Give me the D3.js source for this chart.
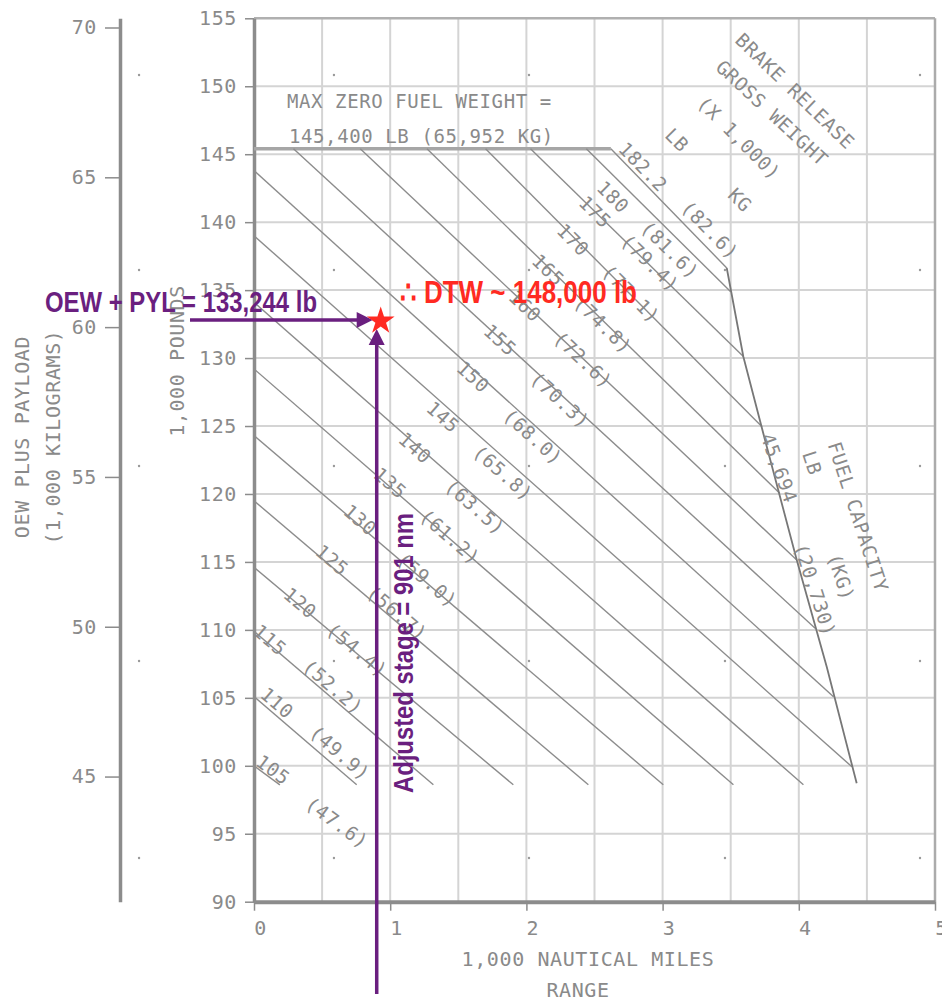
<!DOCTYPE html>
<html>
<head>
<meta charset="UTF-8">
<title>Payload Range</title>
<script src="https://d3js.org/d3.v7.min.js"></script>
<style>
body{margin:0;background:#fff;}
.grid line{stroke:#d4d4d4;stroke-width:2px;}
.cad{font-family:"DejaVu Sans Mono",monospace;fill:#8a8a8a;font-size:19px;letter-spacing:0.6px;}
.gw{fill:none;stroke:#8c8c8c;stroke-width:1.4px;}
.axis path,.axis line{stroke:#8c8c8c;}
</style>
</head>
<body>
<svg width="942" height="1003"></svg>
<script>
// axis ticks
var rangeTicks = [0,1,2,3,4,5];
var lbTicks = [90,95,100,105,110,115,120,125,130,135,140,145,150,155];
var kgTicks = [45,50,55,60,65,70];
var gridX = [0.5,1,1.5,2,2.5,3,3.5,4,4.5];
var gridY = [95,100,105,110,115,120,125,130,135,140,145,150];

// brake release gross weight lines (x = 1000 nm, y = 1000 lb)
var gwLb = ["105","110","115","120","125","130","135","140","145","150","155","160","165","170","175","180","182.2"];
var gwKg = ["(47.6)","(49.9)","(52.2)","(54.4)","(56.7)","(59.0)","(61.2)","(63.5)","(65.8)","(68.0)","(70.3)","(72.6)","(74.8)","(77.1)","(79.4)","(81.6)","(82.6)"];
var gwStart = [[0,100.0],[0,105.1],[0,109.9],[0,114.6],[0,119.5],[0,124.3],[0,129.2],[0,134.1],[0,139.0],[0,143.8],
               [0.29,145.4],[0.78,145.4],[1.27,145.4],[1.70,145.4],[2.03,145.4],[2.44,145.4],[2.62,145.4]];
var gwEnd = [[0.19,98.6],[0.754,98.6],[1.317,98.6],[1.904,98.6],[2.455,98.6],[3.005,98.6],[3.52,98.6],[4.034,98.6],
             [4.39,99.93],[4.255,105.08],[4.12,110.12],[3.985,115.14],[3.86,120.05],[3.73,124.95],[3.595,130.1],[3.50,134.88],[3.471,136.63]];
var gwLbPos = [[0.14,99.71],[0.169,104.62],[0.117,109.26],[0.338,111.98],[0.573,115.14],[0.778,118.09],[0.999,120.81],[1.182,123.38],
               [1.388,125.66],[1.608,128.61],[1.806,131.33],[1.990,133.83],[2.159,136.48],[2.342,138.69],[2.504,140.75],[2.636,141.85],[2.856,144.06]];
var gwKgPos = [[0.609,95.81],[0.631,100.94],[0.580,105.80],[0.756,108.52],[1.050,111.24],[1.270,113.67],[1.439,116.84],[1.623,119.04],
               [1.828,121.54],[2.048,124.20],[2.247,126.92],[2.416,129.86],[2.562,132.44],[2.768,134.72],[2.907,137.00],[3.054,137.95],[3.348,139.42]];

// fuel capacity limit and max zero fuel weight
var fuelPts = [[3.471,136.63],[3.593,130.10],[3.752,123.97],[3.985,115.14],[4.205,107.29],[4.425,98.71]];
var mzfw = [[0,145.4],[2.62,145.4]];

// little registration dots
var dotX = [-0.844,0.587,2.019,3.458,4.890];
var dotY = [150.83,136.48,122.06,107.71,93.22];

// worked example
var stageNm = 0.901;
var oewPyl = 132.8;

var svg = d3.select("svg");
var LB_PER_KG = 2.20462;

var x = d3.scaleLinear().domain([0,5]).range([254,935]),
    y = d3.scaleLinear().domain([90,155]).range([901.7,18.3]),
    yKg = d3.scaleLinear().domain([90/LB_PER_KG,155/LB_PER_KG]).range(y.range());

var line = d3.line()
    .x(function(d){return x(d[0]);})
    .y(function(d){return y(d[1]);});

function styleText(sel){
    sel.attr("class","cad").attr("font-family",null).attr("font-size",null).attr("fill",null);
}

// grid
var grid = svg.append("g").attr("class","grid");
grid.selectAll(".gx").data(gridX).enter().append("line")
    .attr("x1",function(d){return x(d);}).attr("x2",function(d){return x(d);})
    .attr("y1",y(155)).attr("y2",y(90));
grid.selectAll(".gy").data(gridY).enter().append("line")
    .attr("x1",x(0)).attr("x2",x(5))
    .attr("y1",function(d){return y(d);}).attr("y2",function(d){return y(d);});

svg.selectAll(".dot").data(d3.cross(dotX,dotY)).enter().append("circle")
    .attr("cx",function(d){return x(d[0]);})
    .attr("cy",function(d){return y(d[1]);})
    .attr("r",1.2).attr("fill","#9a9a9a");

// frame top / right
svg.append("line").attr("x1",x(0)).attr("x2",x(5)).attr("y1",y(155)).attr("y2",y(155))
    .attr("stroke","#b0b0b0").attr("stroke-width",2.5);
svg.append("line").attr("x1",x(5)).attr("x2",x(5)).attr("y1",y(155)).attr("y2",y(90))
    .attr("stroke","#ababab").attr("stroke-width",2.5);

// kg axis on the far left
var kgAxis = svg.append("g").attr("class","axis")
    .attr("transform","translate(120,0)")
    .call(d3.axisLeft(yKg).tickValues(kgTicks).tickSize(15).tickSizeOuter(0).tickPadding(8));
kgAxis.select(".domain").attr("stroke-width",3.5);
kgAxis.selectAll("line").attr("stroke-width",1.5);
kgAxis.selectAll("text").call(styleText).style("font-size","20px");

// lb axis
var lbAxis = svg.append("g").attr("class","axis")
    .attr("transform",`translate(${x(0)},0)`)
    .call(d3.axisLeft(y).tickValues(lbTicks).tickSize(9).tickSizeOuter(0).tickPadding(8));
lbAxis.select(".domain").attr("stroke-width",3.5);
lbAxis.selectAll("line").attr("stroke-width",1.5);
lbAxis.selectAll("text").call(styleText).style("font-size","20px");

// range axis
var xAxis = svg.append("g").attr("class","axis")
    .attr("transform",`translate(0,${y(90)})`)
    .call(d3.axisBottom(x).tickValues(rangeTicks).tickFormat(d3.format("d"))
        .tickSize(9).tickSizeOuter(0).tickPadding(10));
xAxis.select(".domain").attr("stroke","#808080").attr("stroke-width",4);
xAxis.selectAll("line").attr("stroke-width",1.5);
xAxis.selectAll("text").call(styleText).style("font-size","20px").attr("dx",6);

// axis titles
svg.append("text").attr("class","cad").attr("x",588).attr("y",966).attr("text-anchor","middle")
    .style("font-size","20px").text("1,000 NAUTICAL MILES");
svg.append("text").attr("class","cad").attr("x",578).attr("y",997).attr("text-anchor","middle")
    .style("font-size","20px").text("RANGE");
svg.append("text").attr("class","cad").attr("text-anchor","middle")
    .attr("transform","translate(184,361) rotate(-90)").style("font-size","20px").text("1,000 POUNDS");
svg.append("text").attr("class","cad").attr("text-anchor","middle")
    .attr("transform","translate(29,437) rotate(-90)").style("font-size","20px").text("OEW PLUS PAYLOAD");
svg.append("text").attr("class","cad").attr("text-anchor","middle")
    .attr("transform","translate(60,437) rotate(-90)").style("font-size","20px").text("(1,000 KILOGRAMS)");

// max zero fuel weight
svg.append("path").datum(mzfw).attr("d",line)
    .attr("stroke","#a6a6a6").attr("stroke-width",3.5).attr("fill","none");
svg.append("text").attr("class","cad").attr("x",x(0.242)).attr("y",y(148.86)).attr("dy","0.35em")
    .text("MAX ZERO FUEL WEIGHT =");
svg.append("text").attr("class","cad").attr("x",x(0.257)).attr("y",y(146.29)).attr("dy","0.35em")
    .text("145,400 LB (65,952 KG)");

// gross weight lines
var gwData = gwLb.map(function(d,i){
    return {lb:d, kg:gwKg[i], pts:[gwStart[i],gwEnd[i]], lbPos:gwLbPos[i], kgPos:gwKgPos[i]};
});
svg.selectAll(".gw").data(gwData).enter().append("path")
    .attr("class","gw")
    .attr("d",function(d){return line(d.pts);});

function angle(d){
    var a = d.pts[0], b = d.pts[1];
    return Math.atan2(y(b[1])-y(a[1]), x(b[0])-x(a[0]))*180/Math.PI;
}
var gwLabels = svg.append("g");
gwData.forEach(function(d){
    var ang = Math.min(angle(d),46);
    [[d.lb,d.lbPos],[d.kg,d.kgPos]].forEach(function(t){
        gwLabels.append("text").attr("class","cad")
            .attr("text-anchor","middle").attr("dy","0.35em")
            .attr("transform",`translate(${x(t[1][0])},${y(t[1][1])}) rotate(${ang})`)
            .text(t[0]);
    });
});

// fuel capacity
svg.append("path").datum(fuelPts).attr("d",line)
    .attr("fill","none").attr("stroke","#777").attr("stroke-width",1.8);

// notes
var notes = [
    {t:"BRAKE RELEASE", p:[3.972,149.64], r:44},
    {t:"GROSS WEIGHT", p:[3.803,148.03], r:43},
    {t:"(X 1,000)", p:[3.561,146.19], r:45},
    {t:"LB", p:[3.106,146.04], r:45},
    {t:"KG", p:[3.568,141.63], r:45},
    {t:"FUEL CAPACITY", p:[4.435,118.31], r:72},
    {t:"LB", p:[4.097,122.28], r:72},
    {t:"(KG)", p:[4.310,113.89], r:72},
    {t:"45,694", p:[3.855,121.91], r:70},
    {t:"(20,730)", p:[4.119,112.94], r:72}
];
svg.selectAll(".note").data(notes).enter().append("text")
    .attr("class","cad").attr("text-anchor","middle").attr("dy","0.35em")
    .attr("transform",function(d){return `translate(${x(d.p[0])},${y(d.p[1])}) rotate(${d.r})`;})
    .text(function(d){return d.t;});

// ---- worked example overlay ----
var purple = "#6a1f7f", red = "#ff2a22";
var sx = x(stageNm), sy = y(oewPyl);
var bold = "'Liberation Sans Narrow','Liberation Sans',Arial,sans-serif";

svg.append("line").attr("x1",190).attr("x2",sx-18).attr("y1",sy).attr("y2",sy)
    .attr("stroke",purple).attr("stroke-width",3.5);
svg.append("path").attr("fill",purple)
    .attr("d",`M${sx-4},${sy} L${sx-20},${sy-8} L${sx-20},${sy+8} Z`);

svg.append("line").attr("x1",sx).attr("x2",sx).attr("y1",994).attr("y2",sy+24)
    .attr("stroke",purple).attr("stroke-width",3.5);
svg.append("path").attr("fill",purple)
    .attr("d",`M${sx},${sy+9} L${sx-8},${sy+25} L${sx+8},${sy+25} Z`);

svg.append("path").attr("d",d3.symbol(d3.symbolStar).size(240)())
    .attr("transform",`translate(${sx+4},${sy+1})`).attr("fill",red);

svg.append("text").attr("x",45).attr("y",312)
    .attr("font-family",bold).attr("font-weight","bold").attr("font-size",29)
    .attr("fill",purple).attr("textLength",272).attr("lengthAdjust","spacingAndGlyphs")
    .text("OEW + PYL = 133,244 lb");
svg.append("text").attr("x",400).attr("y",303)
    .attr("font-family",bold).attr("font-weight","bold").attr("font-size",31)
    .attr("fill",red).attr("textLength",237).attr("lengthAdjust","spacingAndGlyphs")
    .text("\u2234 DTW ~ 148,000 lb");
svg.append("text").attr("transform","translate(413,793) rotate(-90)")
    .attr("font-family",bold).attr("font-weight","bold").attr("font-size",28)
    .attr("fill",purple).attr("textLength",280).attr("lengthAdjust","spacingAndGlyphs")
    .text("Adjusted stage = 901 nm");
</script>
</body>
</html>
